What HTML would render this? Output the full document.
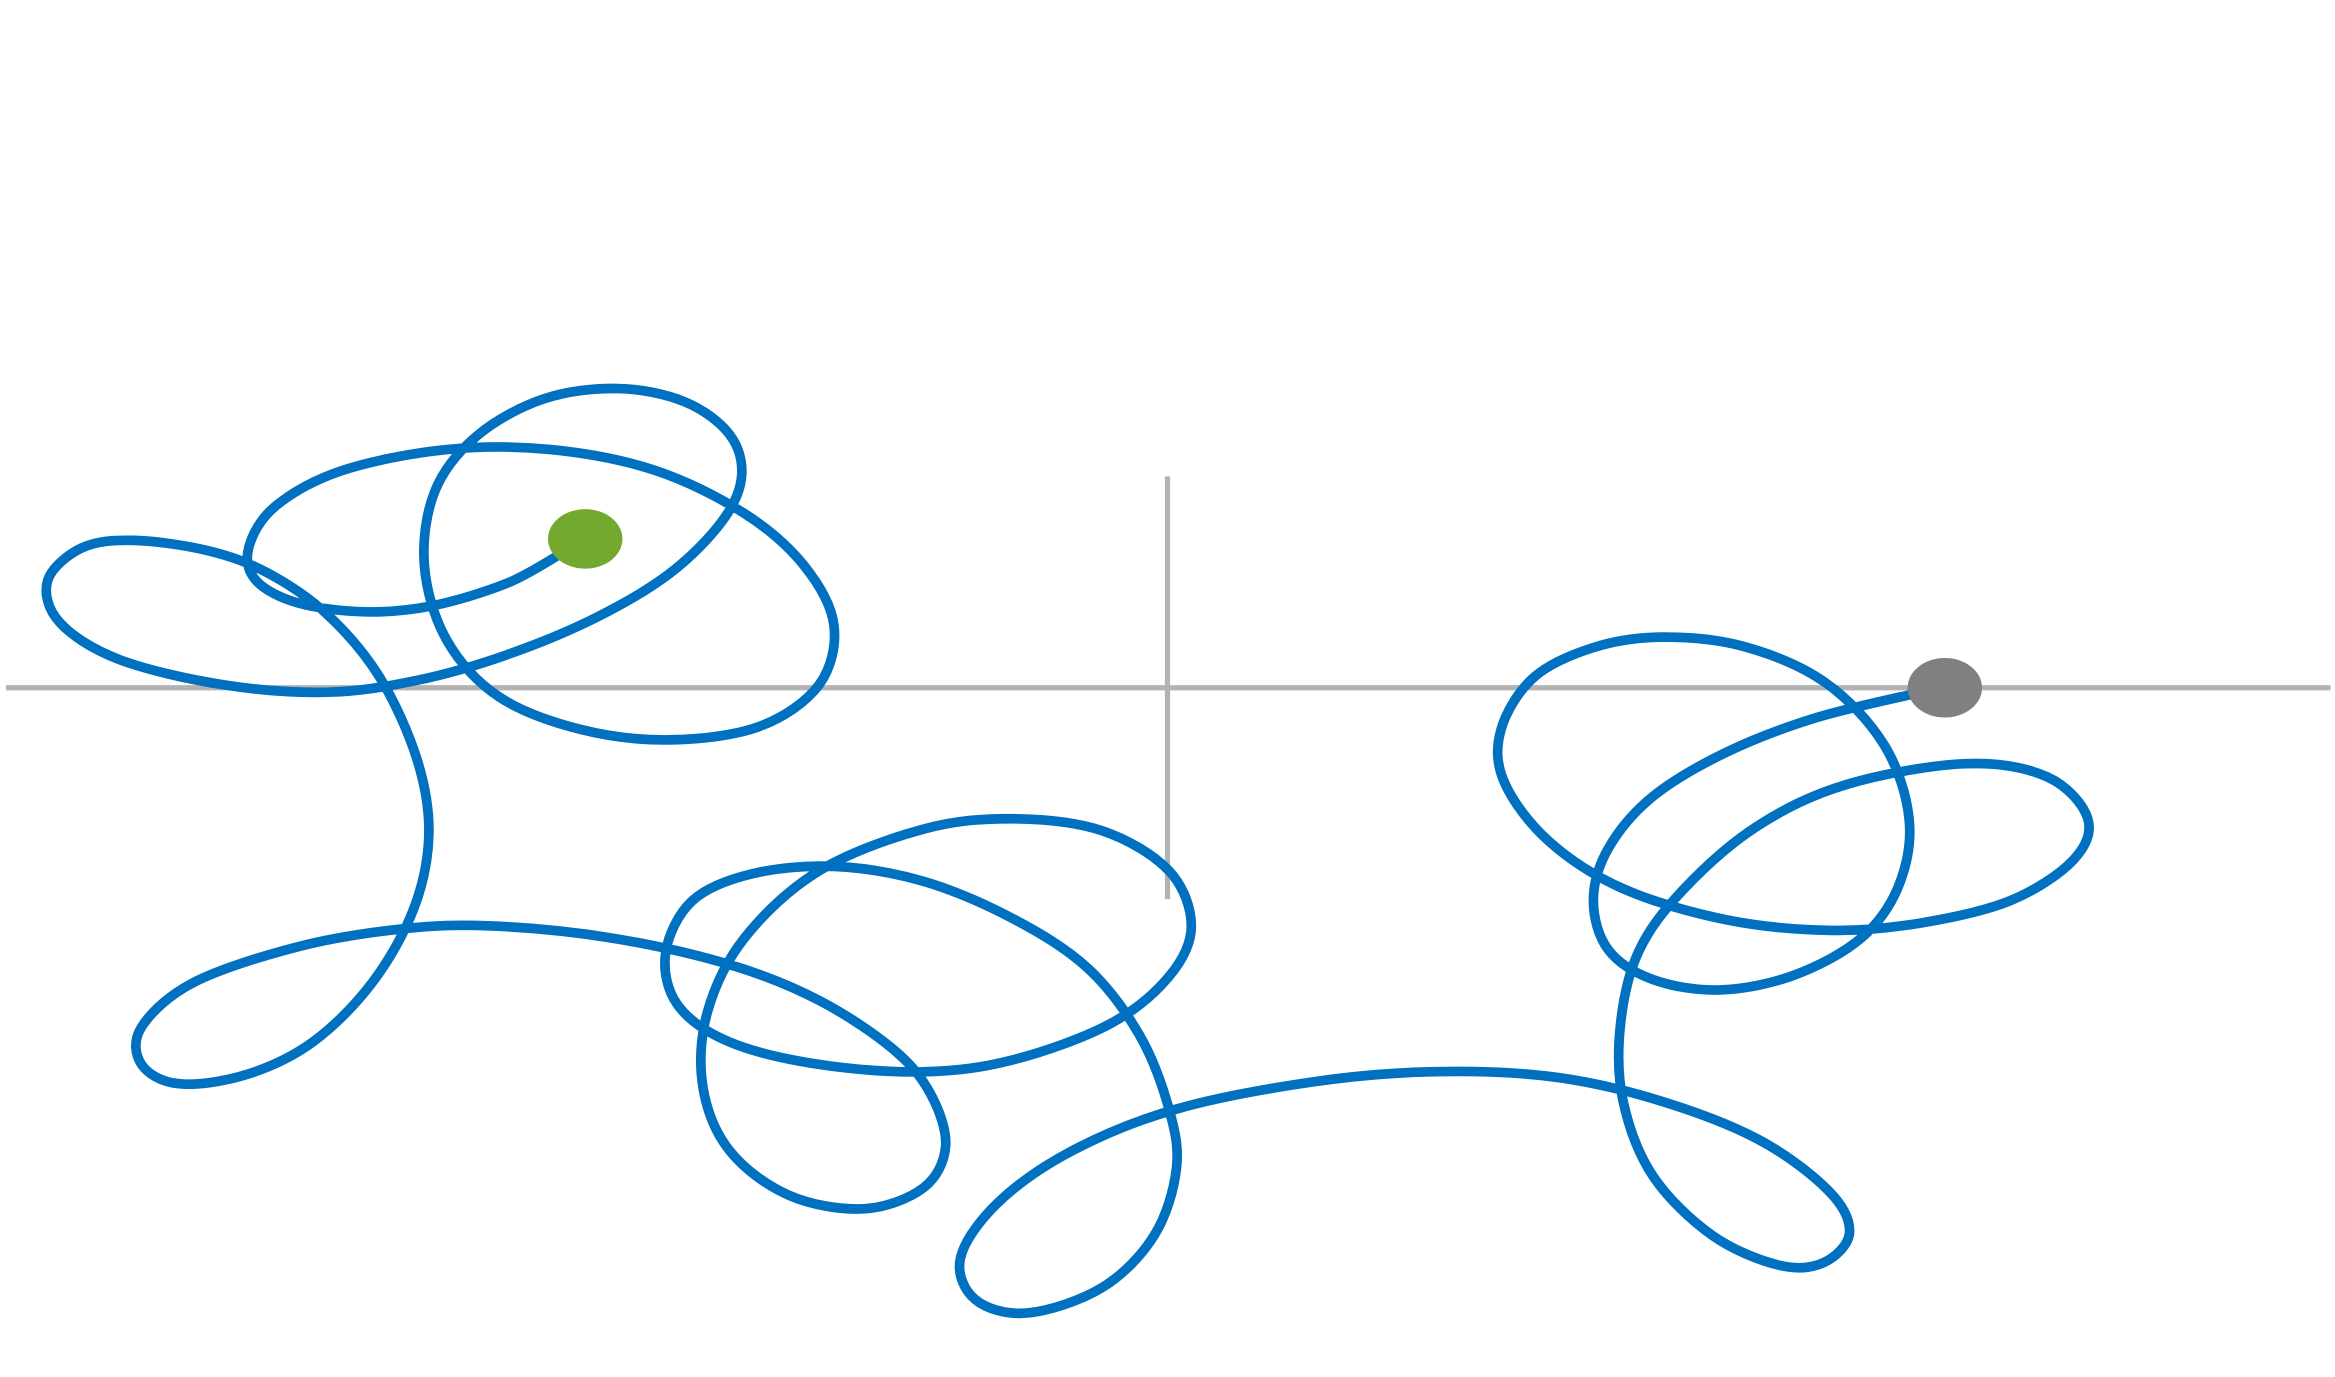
<!DOCTYPE html>
<html><head><meta charset="utf-8"><style>html,body{margin:0;padding:0;background:#fff;width:2335px;height:1377px;overflow:hidden}svg{display:block}</style></head>
<body>
<svg id="s" width="2335" height="1377" viewBox="0 0 1568 925" preserveAspectRatio="none" xmlns="http://www.w3.org/2000/svg">
<line x1="4" y1="462" x2="1565" y2="462" stroke="#b3b3b3" stroke-width="3.5"/>
<line x1="784" y1="320" x2="784" y2="604" stroke="#b3b3b3" stroke-width="3.5"/>
<path id="p" fill="none" stroke="#0070c0" stroke-width="6.5" stroke-linejoin="round" stroke-linecap="round" d=""/>
<ellipse cx="393" cy="362" rx="25" ry="20" fill="#72a92e"/>
<ellipse cx="1306" cy="462" rx="25" ry="20" fill="#808080"/>
</svg>
<script>
var P=[[375,373],[340,392],[290,407],[245,411],[200,405],[172,390],[167,368],[185,340],[230,316],[300,302],[370,302],[440,316],[500,345],[540,380],[560,420],[550,460],[510,488],[450,497],[390,490],[335,468],[300,430],[285,380],[292,330],[320,293],[365,268],[415,261],[460,270],[490,292],[498,320],[485,350],[450,385],[400,415],[340,440],[280,457],[220,465],[150,460],[80,443],[40,418],[32,390],[55,368],[90,363],[140,370],[180,385],[220,413],[255,455],[280,510],[288,560],[278,610],[250,660],[210,700],[165,722],[120,728],[95,715],[95,690],[130,660],[200,636],[270,624],[330,622],[410,630],[490,648],[550,672],[600,705],[625,735],[635,770],[620,798],[580,812],[530,803],[490,773],[472,730],[475,680],[500,630],[550,585],[620,557],[680,550],[740,558],[785,585],[800,622],[785,656],[745,688],[680,712],[620,720],[550,715],[490,700],[455,675],[447,640],[465,605],[505,587],[560,582],[620,592],[680,617],[730,650],[765,695],[785,745],[790,785],[775,830],[740,865],[690,882],[655,873],[645,845],[670,808],[720,773],[790,745],[880,727],[960,720],[1040,723],[1110,738],[1180,765],[1228,800],[1242,828],[1225,848],[1195,850],[1150,830],[1110,790],[1090,740],[1088,690],[1100,640],[1130,598],[1180,555],[1240,527],[1320,513],[1375,522],[1402,550],[1392,578],[1350,605],[1290,620],[1230,625],[1160,618],[1090,597],[1040,565],[1010,525],[1008,490],[1030,455],[1070,435],[1115,428],[1170,434],[1225,458],[1265,500],[1282,550],[1275,595],[1250,630],[1205,655],[1155,665],[1110,658],[1080,638],[1070,605],[1080,570],[1110,535],[1160,505],[1220,482],[1290,465]];
var d="M"+P[0][0]+","+P[0][1];
for(var i=0;i<P.length-1;i++){var p0=P[Math.max(0,i-1)],p1=P[i],p2=P[i+1],p3=P[Math.min(P.length-1,i+2)];
var c1=[p1[0]+(p2[0]-p0[0])/6,p1[1]+(p2[1]-p0[1])/6],c2=[p2[0]-(p3[0]-p1[0])/6,p2[1]-(p3[1]-p1[1])/6];
d+=" C"+c1.join(",")+" "+c2.join(",")+" "+p2.join(",");}
document.getElementById("p").setAttribute("d",d);
</script>
</body></html>
